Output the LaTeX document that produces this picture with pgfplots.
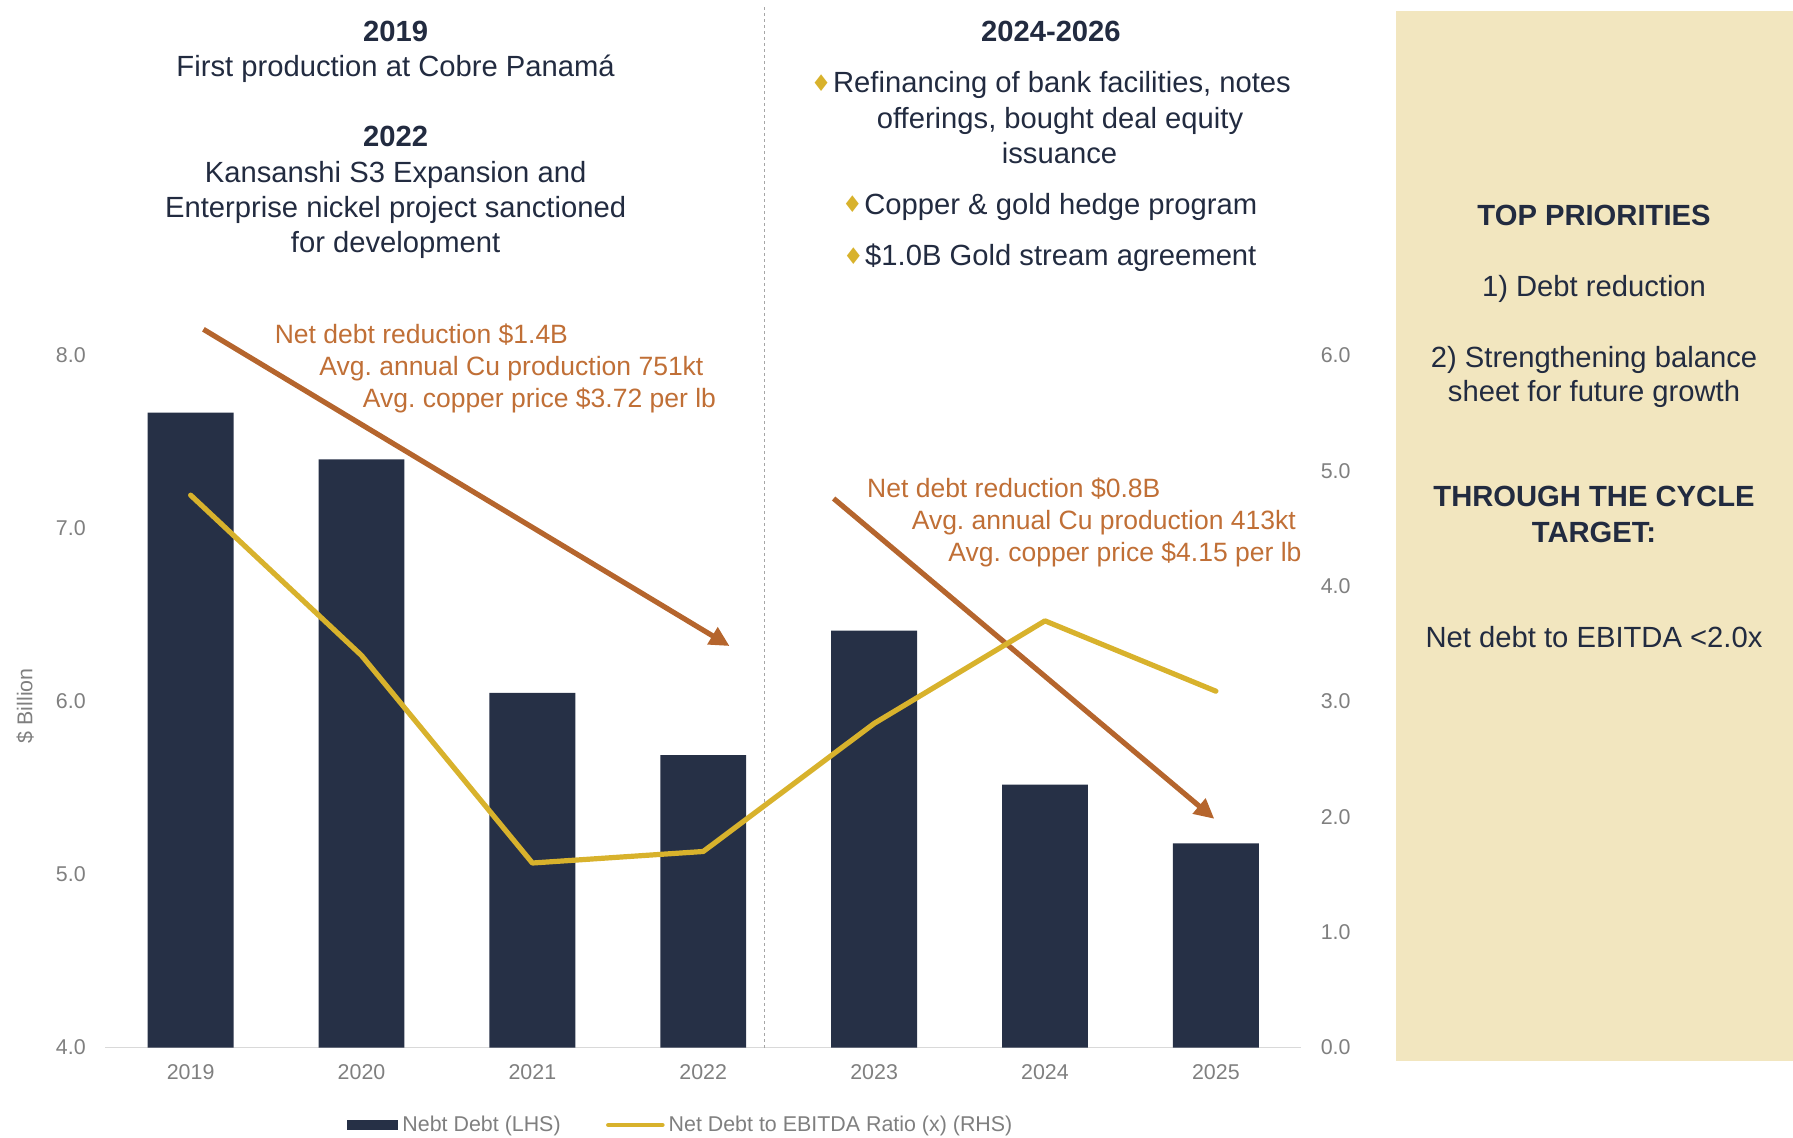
\documentclass[border=0pt]{standalone}
\usepackage{pgfplots}
\pgfplotsset{compat=1.18}
\usetikzlibrary{arrows.meta}
\usepackage{fontspec}
\setmainfont{Liberation Sans}
\newfontfamily\dejavu{DejaVu Sans}
\frenchspacing
\definecolor{navy}{HTML}{263046}
\definecolor{txt}{HTML}{222B40}
\definecolor{gold}{HTML}{D8B22C}
\definecolor{rust}{HTML}{B5652D}
\definecolor{anno}{HTML}{C06F36}
\definecolor{beige}{HTML}{F2E6BF}
\definecolor{tickgray}{HTML}{7F7F7F}
\definecolor{axgray}{HTML}{D9D9D9}
\definecolor{dotgray}{HTML}{A6A6A6}
\newcommand{\mainf}{\fontsize{14.6}{17.5}\selectfont}
\newcommand{\annof}{\fontsize{13.25}{16}\selectfont}
\newcommand{\smallf}{\fontsize{10.7}{12.5}\selectfont}
\newcommand{\bul}{{\dejavu\fontsize{11.5}{11.5}\selectfont\color{gold}\raisebox{0.6pt}{♦}}\hspace{0.8pt}}
\begin{document}
\begin{tikzpicture}
\useasboundingbox (0,0) rectangle (896.5pt,-568.5pt);
\begin{scope}[x=0.5pt,y=-0.5pt]
\fill[beige] (1396.2,11.4) rectangle (1793,1061.2);
% left block
\begin{scope}[every node/.style={anchor=base, text=txt, font=\mainf, inner sep=0pt}]
\node[font=\mainf\bfseries] at (395.6,41.3) {2019};
\node at (395.6,76.8) {First production at Cobre Panamá};
\node[font=\mainf\bfseries] at (395.6,146.5) {2022};
\node at (395.6,182.0) {Kansanshi S3 Expansion and};
\node at (395.6,217.4) {Enterprise nickel project sanctioned};
\node at (395.6,252.9) {for development};
% right block
\node[font=\mainf\bfseries] at (1050.9,41.3) {2024-2026};
\node at (1050.9,92.8) {\bul Refinancing of bank facilities, notes};
\node at (1060.0,128.2) {offerings, bought deal equity};
\node at (1059.5,163.7) {issuance};
\node at (1049.7,214.0) {\bul Copper \& gold hedge program};
\node at (1049.7,265.5) {\bul \$1.0B Gold stream agreement};
% priorities panel
\node[font=\mainf\bfseries] at (1594,225.4) {TOP PRIORITIES};
\node at (1594,296.3) {1) Debt reduction};
\node at (1594,367.2) {2) Strengthening balance};
\node at (1594,401.5) {sheet for future growth};
\node[font=\mainf\bfseries] at (1594,506.7) {THROUGH THE CYCLE};
\node[font=\mainf\bfseries] at (1594,542.2) {TARGET:};
\node at (1594,647.4) {Net debt to EBITDA <2.0x};
\end{scope}
% annotations
\begin{scope}[every node/.style={anchor=base west, text=anno, font=\annof, inner sep=0pt}]
\node at (274.4,343.4) {Net debt reduction \$1.4B};
\node at (319.0,375.4) {Avg. annual Cu production 751kt};
\node at (362.5,407.4) {Avg. copper price \$3.72 per lb};
\node at (866.8,497.8) {Net debt reduction \$0.8B};
\node at (911.4,529.8) {Avg. annual Cu production 413kt};
\node at (948.0,561.8) {Avg. copper price \$4.15 per lb};
\end{scope}
\end{scope}
\begin{axis}[
  at={(52.6pt,-523.75pt)}, anchor=south west,
  scale only axis, width=598.05pt, height=345.95pt,
  xmin=-0.5, xmax=6.5, ymin=4, ymax=8,
  clip=false,
  separate axis lines,
  axis x line*=bottom, axis y line*=left,
  x axis line style={-, draw=axgray, line width=0.9pt},
  y axis line style={draw=none},
  major tick length=0pt, tick style={draw=none},
  xtick={0,...,6}, xticklabels={2019,2020,2021,2022,2023,2024,2025},
  ytick={4,5,6,7,8},
  /pgf/number format/assume math mode=true,
  /pgf/number format/fixed, /pgf/number format/fixed zerofill, /pgf/number format/precision=1,
  ticklabel style={font=\smallf, text=tickgray},
  yticklabel style={xshift=-6.2pt},
  xticklabel style={yshift=-5pt},
  ylabel={\$ Billion},
  every axis y label/.style={at={(axis description cs:-0.0669,0.494)}, rotate=90, anchor=center, font=\smallf, text=tickgray},
  legend style={at={(0.482,-0.112)}, anchor=center, draw=none, fill=none, font=\smallf, text=tickgray,
     /tikz/every even column/.append style={column sep=20.7pt}},
  legend columns=2, legend cell align=left,
]
\addplot[ybar, bar width=42.9pt, bar shift=0pt, fill=navy, draw=none,
  legend image code/.code={\fill[navy] (0pt,-2.5pt) rectangle (25.7pt,2.5pt);}]
  coordinates {(0,7.67) (1,7.40) (2,6.05) (3,5.69) (4,6.41) (5,5.52) (6,5.18)};
\addlegendentry{Nebt Debt (LHS)}
\addplot[dotgray, line width=0.7pt, dash pattern=on 1.5pt off 1.5pt, forget plot]
  coordinates {(3.359,4) (3.359,10.02)};
\addplot[rust, line width=2.6pt, -{Triangle[length=10pt,width=9.5pt]}, forget plot]
  coordinates {(0.075,8.152) (3.154,6.321)};
\addplot[rust, line width=2.6pt, -{Triangle[length=10pt,width=9.5pt]}, forget plot]
  coordinates {(3.763,7.174) (5.991,5.322)};
\addlegendimage{legend image code/.code={\draw[gold,line width=2.3pt,line cap=round] (0pt,0pt) -- (27pt,0pt);}}
\addlegendentry{Net Debt to EBITDA Ratio (x) (RHS)}
\end{axis}
\begin{axis}[
  at={(52.6pt,-523.75pt)}, anchor=south west,
  scale only axis, width=598.05pt, height=345.95pt,
  xmin=-0.5, xmax=6.5, ymin=0, ymax=6,
  clip=false,
  hide x axis,
  axis y line*=right,
  y axis line style={draw=none},
  major tick length=0pt, tick style={draw=none},
  ytick={0,...,6},
  /pgf/number format/assume math mode=true,
  /pgf/number format/fixed, /pgf/number format/fixed zerofill, /pgf/number format/precision=1,
  ticklabel style={font=\smallf, text=tickgray},
  yticklabel style={xshift=6.2pt},
]
\addplot[gold, line width=2.6pt, line join=round, line cap=round]
  coordinates {(0,4.79) (1,3.40) (2,1.60) (3,1.70) (4,2.81) (5,3.70) (6,3.09)};
\end{axis}
\end{tikzpicture}
\end{document}
